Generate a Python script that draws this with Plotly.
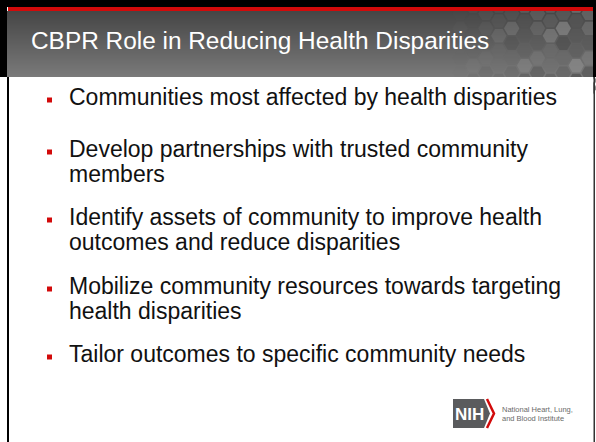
import math
import plotly.graph_objects as go

# slide content
title = "CBPR Role in Reducing Health Disparities"
bullets = [
    ["Communities most affected by health disparities"],
    ["Develop partnerships with trusted community", "members"],
    ["Identify assets of community to improve health", "outcomes and reduce disparities"],
    ["Mobilize community resources towards targeting", "health disparities"],
    ["Tailor outcomes to specific community needs"],
]
# vertical centre of each paragraph's first line (slide pixels)
bullet_y = [97, 149, 217, 286, 354]
line_gap = 24.5
logo_lines = ["National Heart, Lung,", "and Blood Institute"]

W, H = 596, 442
FONT = "Liberation Sans, Arial, sans-serif"
RED = "#d20a0a"

fig = go.Figure()
shapes = []

# header gradient, dark at top to lighter grey at bottom
top, bottom = 11, 77
c0, c1 = 0x46, 0x7a
for i in range(top, bottom):
    t = (i - top) / (bottom - top - 1)
    g = int(c0 + (c1 - c0) * t)
    shapes.append(dict(type="rect", x0=7, x1=W, y0=i, y1=i + 1.05, layer="below",
                       line_width=0, fillcolor="rgb({0},{0},{0})".format(g)))

# honeycomb in the right part of the header
r = 8.6
greys = [0x6a, 0x55, 0x84, 0x5e, 0x70, 0x4e, 0x7a, 0x62, 0x58, 0x6c, 0x8a, 0x5a]
k = 0
col = 0
cx = 602.0
while cx > 440:
    cy = 6.0 + (r * math.sqrt(3) / 2 if col % 2 else 0)
    while cy < 90:
        pts = []
        for a in range(6):
            ang = math.radians(60 * a)
            pts.append((cx + (r - 0.9) * math.cos(ang), cy + (r - 0.9) * math.sin(ang)))
        path = "M " + " L ".join("{:.1f},{:.1f}".format(x, y) for x, y in pts) + " Z"
        fade = max(0.0, min(1.0, (cx - 450) / 120))
        g = greys[(k * 7 + col * 3) % len(greys)]
        shapes.append(dict(type="path", path=path, layer="below", line_width=0,
                           fillcolor="rgb({0},{0},{0})".format(g), opacity=0.7 * fade))
        k += 1
        cy += r * math.sqrt(3)
    cx -= 1.5 * r
    col += 1

# body, stripe and frame drawn over the honeycomb edges
shapes += [
    dict(type="rect", x0=9, x1=593, y0=bottom, y1=H, fillcolor="white", line_width=0, layer="below"),
    dict(type="rect", x0=0, x1=W, y0=0, y1=7, fillcolor="black", line_width=0, layer="below"),
    dict(type="rect", x0=8, x1=W, y0=7, y1=11, fillcolor=RED, line_width=0, layer="below"),
    dict(type="rect", x0=0, x1=7, y0=0, y1=bottom, fillcolor="black", line_width=0, layer="below"),
    dict(type="rect", x0=7, x1=9, y0=bottom, y1=H, fillcolor="black", line_width=0, layer="below"),
    dict(type="rect", x0=593, x1=W, y0=0, y1=bottom, fillcolor="black", line_width=0, layer="below"),
    dict(type="rect", x0=593.5, x1=595, y0=bottom, y1=H, fillcolor="#333333", line_width=0, layer="below"),
]

# NIH logo
shapes += [
    dict(type="path", path="M 453,399 L 484,399 L 490,413.5 L 484,428 L 453,428 Z",
         fillcolor="#5a5b5d", line_width=0, layer="below"),
    dict(type="path", path="M 487,399 L 494,413.5 L 487,428",
         line=dict(color=RED, width=2.5), layer="below"),
]

annotations = [dict(x=29, y=40, text=title, showarrow=False, xanchor="left", yanchor="middle",
                    font=dict(family=FONT, size=24.4, color="white"))]

bx, by = [], []
for lines, y in zip(bullets, bullet_y):
    bx.append(49.5)
    by.append(y + 3)
    for j, line in enumerate(lines):
        annotations.append(dict(x=67, y=y + j * line_gap, text=line, showarrow=False,
                                xanchor="left", yanchor="middle",
                                font=dict(family=FONT, size=23, color="#111111")))

annotations.append(dict(x=469.5, y=414, text="<b>NIH</b>", showarrow=False,
                        font=dict(family=FONT, size=17, color="white")))
for j, line in enumerate(logo_lines):
    annotations.append(dict(x=500, y=409 + j * 9.5, text=line, showarrow=False,
                            xanchor="left", yanchor="middle",
                            font=dict(family=FONT, size=7.5, color="#6a6a6a")))

fig.add_trace(go.Scatter(x=bx, y=by, mode="markers", hoverinfo="skip",
                         marker=dict(symbol="square", size=5, color=RED, line_width=0)))

fig.update_layout(
    width=W, height=H, margin=dict(l=0, r=0, t=0, b=0),
    paper_bgcolor="white", plot_bgcolor="white", showlegend=False,
    xaxis=dict(range=[0, W], visible=False, fixedrange=True),
    yaxis=dict(range=[H, 0], visible=False, fixedrange=True),
    shapes=shapes, annotations=annotations,
)

# the page's default body margin would shift the slide by 8px
fig.write_html("out.html", config={"displayModeBar": False},
               post_script="document.body.style.margin='0';")
